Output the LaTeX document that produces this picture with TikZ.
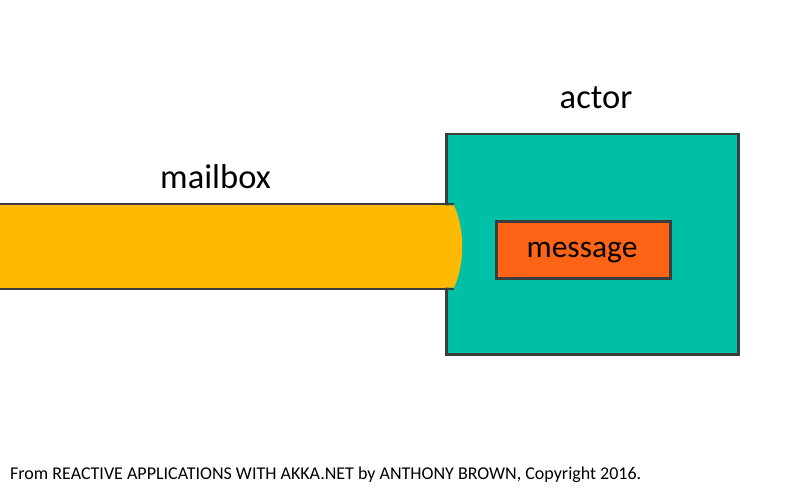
\documentclass[tikz,border=0pt]{standalone}
\usepackage{fontspec}
\setmainfont{Carlito}
\definecolor{teal}{RGB}{0,191,167}
\definecolor{msgorange}{RGB}{255,100,22}
\definecolor{mbyellow}{RGB}{255,186,0}
\definecolor{edge}{RGB}{60,60,60}
\tikzset{
  px/.style={x=1pt,y=-1pt},
  boxline/.style={draw=edge,line width=2.5pt},
  label/.style={inner sep=0pt,anchor=base,text=black},
}
\begin{document}
\begin{tikzpicture}[px]
\useasboundingbox (0,0) rectangle (800,500);
% mailbox
\coordinate (mbtl) at (0,204);
\coordinate (mbtr) at (454,204);
\coordinate (mbbr) at (454,289);
\coordinate (mbbl) at (0,289);
\fill[mbyellow] (mbtl) -- (mbtr) .. controls (465,230) and (465,263) .. (mbbr) -- (mbbl) -- cycle;
% actor
\node[boxline,fill=teal,minimum width=292pt,minimum height=220pt,inner sep=0pt,anchor=north west] (actor) at (445,133) {};
\draw[boxline] (mbtl) -- (mbtr);
\draw[boxline] (mbbl) -- (mbbr);
\fill[mbyellow] (440,205.3) -- (454,205.3) .. controls (465,230) and (465,263) .. (454,287.7) -- (440,287.7) -- cycle;
% message
\node[boxline,fill=msgorange,minimum width=174pt,minimum height=57pt,inner sep=0pt,anchor=north west] (msg) at (495,220) {};
\node[label,font=\fontsize{31.5}{36}\selectfont] (msgtext) at (582,257) {message};
\node[label,font=\fontsize{34.5}{40}\selectfont] (mblabel) at (215.5,188) {mailbox};
\node[label,font=\fontsize{34.5}{40}\selectfont] (actlabel) at (596,109) {actor};
\node[label,anchor=base west,font=\fontsize{18}{20}\selectfont] (credit) at (10,479) {From REACTIVE APPLICATIONS WITH AKKA.NET by ANTHONY BROWN, Copyright 2016.};
\end{tikzpicture}
\end{document}
